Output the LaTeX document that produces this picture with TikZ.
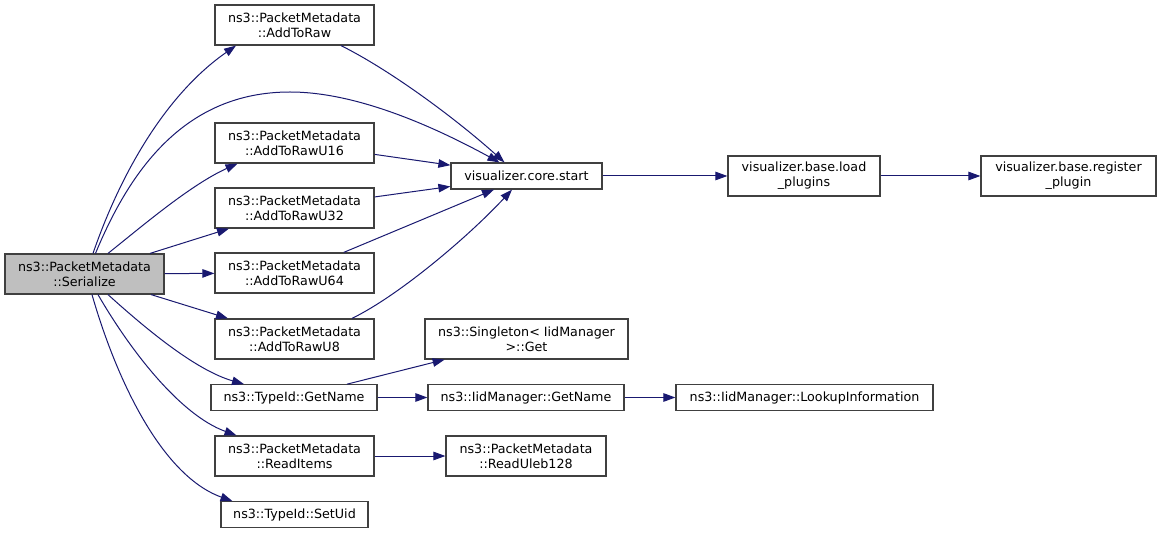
\documentclass[tikz,border=0pt]{standalone}
\usepackage{fontspec}
\setmainfont{DejaVu Sans}
\usetikzlibrary{arrows.meta,calc}
\definecolor{edgeblue}{HTML}{191970}
\definecolor{boxgray}{HTML}{404040}
\definecolor{selfill}{HTML}{BFBFBF}
\newcommand{\dgfont}{\fontsize{12.7}{15}\selectfont}
\tikzset{
  box/.style={draw=boxgray, line width=1.2pt, fill=white, inner sep=0pt, align=center, font=\dgfont},
  tall/.style={minimum height=40pt},
  short/.style={minimum height=25.5pt},
  edge/.style={draw=edgeblue, line width=1pt, -{Triangle[length=12pt,width=8.5pt]}}
}
\begin{document}
\begin{tikzpicture}[x=1pt,y=-1pt]
\useasboundingbox (0,0) rectangle (1161,534);
% nodes
\node[box,tall,minimum width=159pt,fill=selfill] (s) at (84.5,274) {ns3::PacketMetadata\\::Serialize};
\node[box,tall,minimum width=159pt] (ar) at (294.5,25) {ns3::PacketMetadata\\::AddToRaw};
\node[box,tall,minimum width=159pt] (u16) at (294.5,143) {ns3::PacketMetadata\\::AddToRawU16};
\node[box,tall,minimum width=159pt] (u32) at (294.5,208) {ns3::PacketMetadata\\::AddToRawU32};
\node[box,tall,minimum width=159pt] (u64) at (294.5,273) {ns3::PacketMetadata\\::AddToRawU64};
\node[box,tall,minimum width=159pt] (u8) at (294.5,339) {ns3::PacketMetadata\\::AddToRawU8};
\node[box,short,minimum width=166pt] (tg) at (294,397.5) {ns3::TypeId::GetName};
\node[box,tall,minimum width=159pt] (ri) at (294.5,456) {ns3::PacketMetadata\\::ReadItems};
\node[box,short,minimum width=147pt] (su) at (294.5,514.5) {ns3::TypeId::SetUid};
\node[box,minimum height=26pt,minimum width=151pt] (cs) at (526.5,176) {visualizer.core.start};
\node[box,tall,minimum width=152pt] (lp) at (804,176) {visualizer.base.load\\\_plugins};
\node[box,tall,minimum width=175pt] (rp) at (1068.5,176) {visualizer.base.register\\\_plugin};
\node[box,tall,minimum width=203pt] (sg) at (526.5,339) {ns3::Singleton< IidManager\\>::Get};
\node[box,short,minimum width=196pt] (ig) at (526,397.5) {ns3::IidManager::GetName};
\node[box,short,minimum width=257pt] (li) at (804.5,397.5) {ns3::IidManager::LookupInformation};
\node[box,tall,minimum width=160pt] (ru) at (526,456) {ns3::PacketMetadata\\::ReadUleb128};
% edges from Serialize
\draw[edge] ([xshift=8.5pt]s.north) .. controls (120,175) and (165,95) .. ([xshift=-58.5pt]ar.south);
\draw[edge] ([xshift=11pt]s.north) .. controls (130,170) and (185,92) .. (290,92)
   .. controls (360,92) and (440,130) .. ([xshift=-27pt]cs.north);
\draw[edge] ([xshift=23.5pt]s.north) .. controls (140,228) and (190,185) .. ([xshift=-57pt]u16.south);
\draw[edge] (s) -- (u32);
\draw[edge] (s) -- (u64);
\draw[edge] (s) -- (u8);
\draw[edge] ([xshift=23.5pt]s.south) .. controls (145,328) and (195,370) .. ([xshift=-50pt]tg.north);
\draw[edge] ([xshift=13.5pt]s.south) .. controls (130,350) and (180,415) .. ([xshift=-58pt]ri.north);
\draw[edge] ([xshift=7.5pt]s.south) .. controls (115,375) and (160,475) .. ([xshift=-62pt]su.north);
% into core.start
\draw[edge] ([xshift=46.5pt]ar.south) .. controls (390,70) and (455,118) .. ([xshift=-22pt]cs.north);
\draw[edge] (u16) -- (cs);
\draw[edge] (u32) -- (cs);
\draw[edge] (u64) -- (cs);
\draw[edge] ([xshift=57.5pt]u8.north) .. controls (400,295) and (470,235) .. ([xshift=-14.5pt]cs.south);
% right side
\draw[edge] (cs) -- (lp);
\draw[edge] (lp) -- (rp);
\draw[edge] (tg) -- (sg);
\draw[edge] (tg) -- (ig);
\draw[edge] (ig) -- (li);
\draw[edge] (ri) -- (ru);
\end{tikzpicture}
\end{document}
